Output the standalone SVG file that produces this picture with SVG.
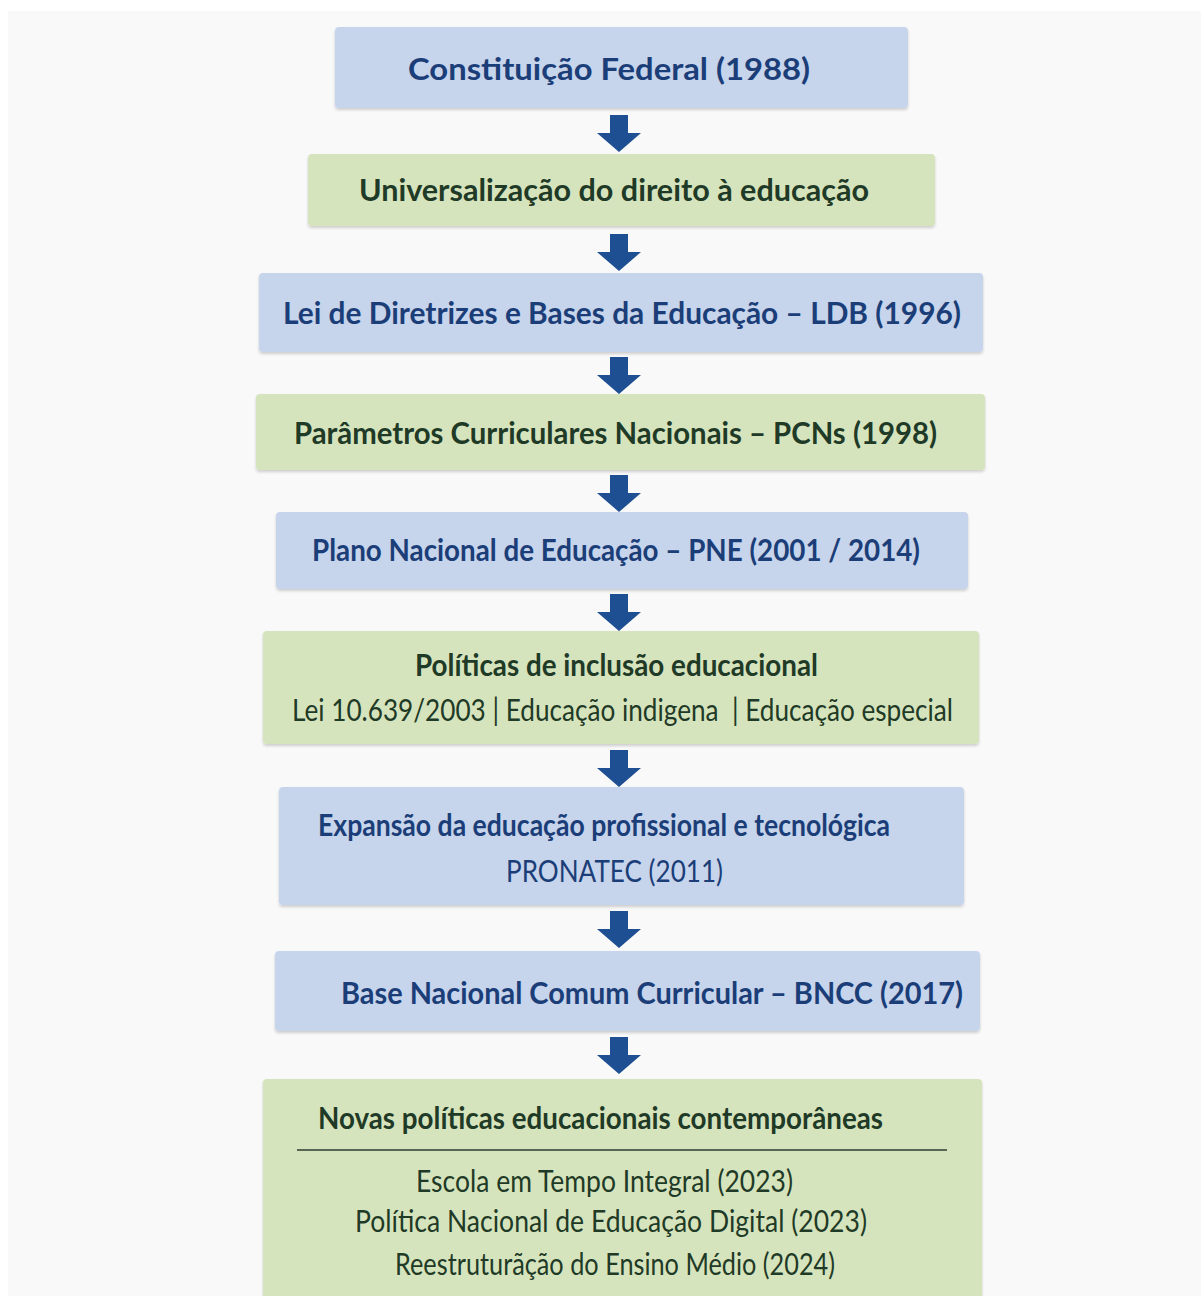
<svg xmlns="http://www.w3.org/2000/svg" xmlns:xlink="http://www.w3.org/1999/xlink" width="1201" height="1296" viewBox="0 0 1201 1296">
<style>
.bb{fill:#c6d4ec;filter:url(#sh)}
.gb{fill:#d6e4bd;filter:url(#sh)}
.t{font-family:Lato,"Open Sans","Liberation Sans",sans-serif;font-size:30px}
.tb{fill:#1b3e78;font-weight:700}
.tg{fill:#1f3a26;font-weight:700}
.rb{fill:#1b3e78;font-weight:400}
.rg{fill:#1f3a26;font-weight:400}
.arr{fill:#1f4f93}
</style>
<defs>
<filter id="sh" x="-5%" y="-10%" width="110%" height="130%">
<feGaussianBlur in="SourceAlpha" stdDeviation="1.5"/>
<feOffset dy="1.5" result="o"/>
<feComponentTransfer><feFuncA type="linear" slope="0.18"/></feComponentTransfer>
<feMerge><feMergeNode/><feMergeNode in="SourceGraphic"/></feMerge>
</filter>
<path id="arw" class="arr" d="M-9,0 H9 V18 H22 L0,37 L-22,18 H-9 Z"/>
</defs>
<rect width="1201" height="1296" fill="#ffffff"/>
<rect x="8" y="11" width="1193" height="1285" fill="#f9f9f9"/>

<g id="n1"><rect class="bb" x="335" y="27" width="573" height="81" rx="4"/>
<text class="t tb" x="408" y="80" font-size="32" textLength="402" lengthAdjust="spacingAndGlyphs">Constituição Federal (1988)</text></g>

<g id="n2"><rect class="gb" x="308" y="154" width="627" height="72" rx="4"/>
<text class="t tg" x="359" y="201" textLength="510" lengthAdjust="spacingAndGlyphs">Universalização do direito à educação</text></g>

<g id="n3"><rect class="bb" x="259" y="273" width="724" height="79" rx="4"/>
<text class="t tb" x="283" y="324" textLength="678" lengthAdjust="spacingAndGlyphs">Lei de Diretrizes e Bases da Educação – LDB (1996)</text></g>

<g id="n4"><rect class="gb" x="256" y="394" width="729" height="76" rx="4"/>
<text class="t tg" x="294" y="444" textLength="643" lengthAdjust="spacingAndGlyphs">Parâmetros Curriculares Nacionais – PCNs (1998)</text></g>

<g id="n5"><rect class="bb" x="276" y="512" width="692" height="77" rx="4"/>
<text class="t tb" x="312" y="561" textLength="608" lengthAdjust="spacingAndGlyphs">Plano Nacional de Educação – PNE (2001 / 2014)</text></g>

<g id="n6"><rect class="gb" x="263" y="631" width="716" height="113" rx="4"/>
<text class="t tg" x="415" y="676" textLength="403" lengthAdjust="spacingAndGlyphs">Políticas de inclusão educacional</text>
<text class="t rg" x="292" y="721" font-size="28" textLength="661" lengthAdjust="spacingAndGlyphs" xml:space="preserve">Lei 10.639/2003 | Educação indigena  | Educação especial</text></g>

<g id="n7"><rect class="bb" x="279" y="787" width="685" height="118" rx="4"/>
<text class="t tb" x="318" y="836" textLength="572" lengthAdjust="spacingAndGlyphs">Expansão da educação profissional e tecnológica</text>
<text class="t rb" x="506" y="882" font-size="28" textLength="217" lengthAdjust="spacingAndGlyphs">PRONATEC (2011)</text></g>

<g id="n8"><rect class="bb" x="275" y="951" width="705" height="80" rx="4"/>
<text class="t tb" x="341" y="1004" textLength="622" lengthAdjust="spacingAndGlyphs">Base Nacional Comum Curricular – BNCC (2017)</text></g>

<g id="n9"><rect class="gb" x="263" y="1079" width="719" height="230" rx="4"/>
<text class="t tg" x="318" y="1129" textLength="565" lengthAdjust="spacingAndGlyphs">Novas políticas educacionais contemporâneas</text>
<line x1="297" y1="1150" x2="947" y2="1150" stroke="#2d3b30" stroke-width="1.5"/>
<text class="t rg" x="416" y="1192" font-size="28" textLength="377" lengthAdjust="spacingAndGlyphs">Escola em Tempo Integral (2023)</text>
<text class="t rg" x="355" y="1232" font-size="28" textLength="512" lengthAdjust="spacingAndGlyphs">Política Nacional de Educação Digital (2023)</text>
<text class="t rg" x="395" y="1275" font-size="28" textLength="440" lengthAdjust="spacingAndGlyphs">Reestruturãção do Ensino Médio (2024)</text></g>

<g id="connectors">
<use xlink:href="#arw" x="619" y="115"/>
<use xlink:href="#arw" x="619" y="234"/>
<use xlink:href="#arw" x="619" y="357"/>
<use xlink:href="#arw" x="619" y="475"/>
<use xlink:href="#arw" x="619" y="594"/>
<use xlink:href="#arw" x="619" y="750"/>
<use xlink:href="#arw" x="619" y="911"/>
<use xlink:href="#arw" x="619" y="1037"/>
</g>
</svg>
